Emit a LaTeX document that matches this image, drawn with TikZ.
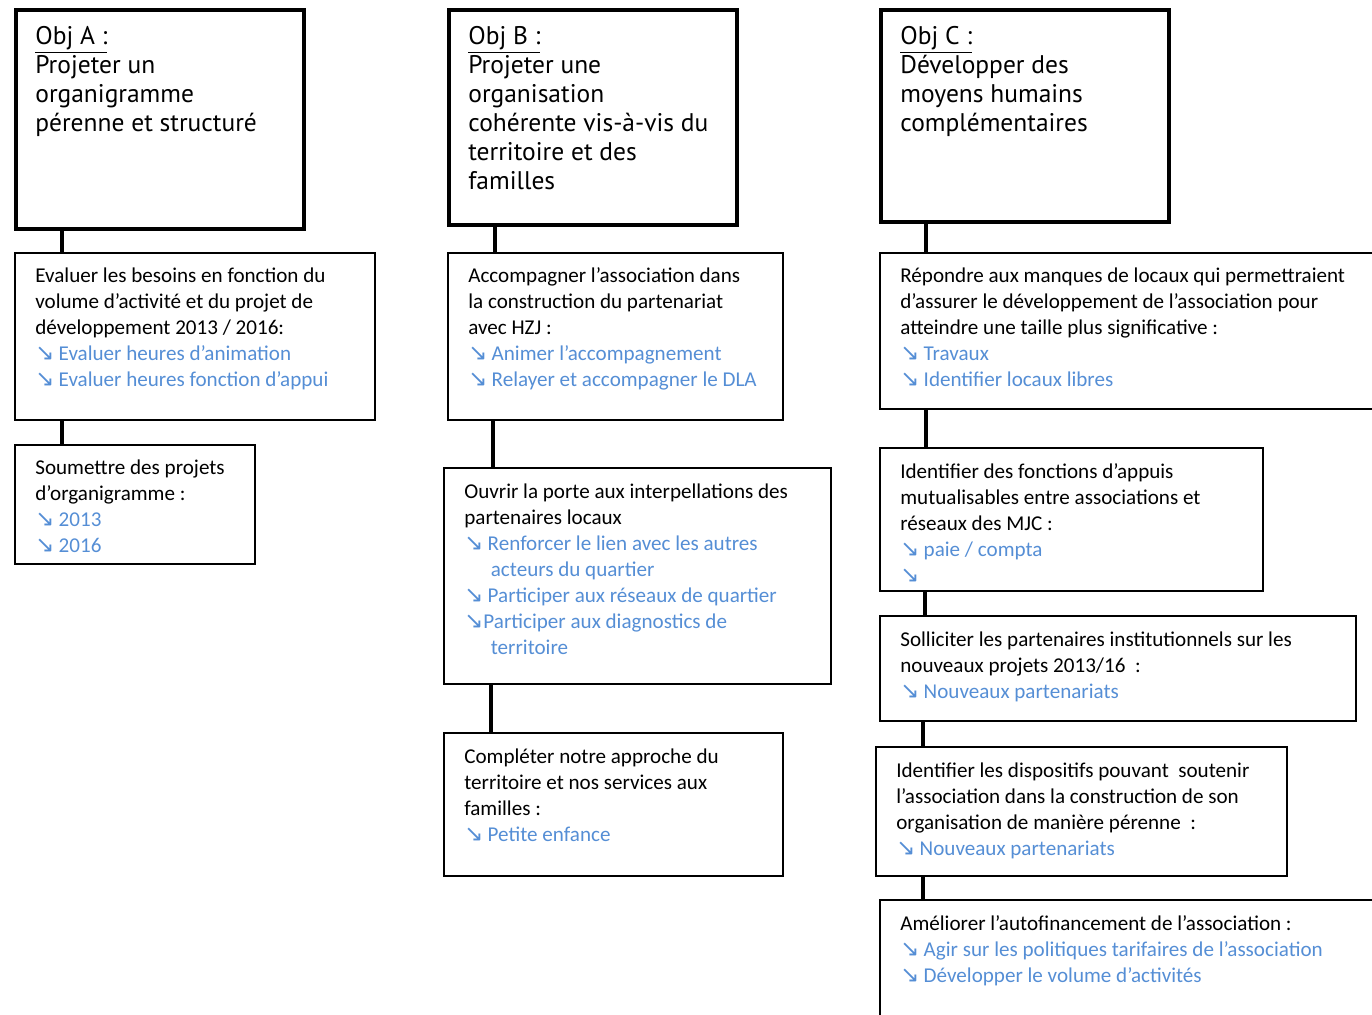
\documentclass[tikz,border=0pt]{standalone}
\usepackage{fontspec}
\setmainfont{Carlito}
\newfontfamily\titrefont{PT Sans}
\newfontfamily\flechefont{DejaVu Sans}
\usetikzlibrary{calc}
\definecolor{bleu}{RGB}{85,142,213}
\newcommand{\fl}{{\flechefont\fontsize{13}{12}\selectfont ↘}}
\newcommand{\puce}[1]{\textcolor{bleu}{\fl\hspace{0.2em}#1}}
\newcommand{\suite}[1]{\textcolor{bleu}{\hphantom{\fl}\hspace{0.35em}#1}}

\begin{document}
\begin{tikzpicture}[
  objectif/.style={draw, line width=2.3pt, anchor=north west, inner sep=0pt},
  action/.style={draw, line width=1.1pt, anchor=north west, inner sep=0pt},
  titre/.style={anchor=north west, inner sep=0pt, align=left, font=\titrefont\fontsize{14.5}{16.5}\selectfont},
  texte/.style={anchor=north west, inner sep=0pt, align=left, font=\fontsize{12}{14.8}\selectfont},
  lien/.style={line width=2.1pt}
]
\useasboundingbox (0,0) rectangle (27.44,-20.28);
\clip (0,0) rectangle (27.44,-20.28);

% colonne A
\node [objectif, minimum width=5.76cm, minimum height=4.38cm] (objA) at (0.28,-0.16) {};
\node [titre] (tA) at ($(objA.north west)+(0.42,-0.36)$) {\underline{Obj A :}\\Projeter un\\organigramme\\pérenne et structuré};

\node [action, minimum width=7.20cm, minimum height=3.34cm] (a1) at (0.28,-5.04) {};
\node [texte] (ta1) at ($(a1.north west)+(0.42,-0.30)$) {Evaluer les besoins en fonction du\\volume d’activité et du projet de\\développement 2013 / 2016:\\\puce{Evaluer heures d’animation}\\\puce{Evaluer heures fonction d’appui}};

\node [action, minimum width=4.80cm, minimum height=2.38cm] (a2) at (0.28,-8.88) {};
\node [texte] (ta2) at ($(a2.north west)+(0.42,-0.30)$) {Soumettre des projets\\d’organigramme :\\\puce{2013}\\\puce{2016}};

\draw [lien] ([xshift=0.96cm]objA.south west) -- ([xshift=0.96cm]objA.south west |- a1.north);
\draw [lien] ([xshift=0.96cm]a1.south west) -- ([xshift=0.96cm]a1.south west |- a2.north);

% colonne B
\node [objectif, minimum width=5.76cm, minimum height=4.30cm] (objB) at (8.94,-0.16) {};
\node [titre] (tB) at ($(objB.north west)+(0.42,-0.36)$) {\underline{Obj B :}\\Projeter une\\organisation\\cohérente vis-à-vis du\\territoire et des\\familles};

\node [action, minimum width=6.70cm, minimum height=3.34cm] (b1) at (8.94,-5.04) {};
\node [texte] (tb1) at ($(b1.north west)+(0.42,-0.30)$) {Accompagner l’association dans\\la construction du partenariat\\avec HZJ :\\\puce{Animer l’accompagnement}\\\puce{Relayer et accompagner le DLA}};

\node [action, minimum width=7.74cm, minimum height=4.32cm] (b2) at (8.86,-9.34) {};
\node [texte] (tb2) at ($(b2.north west)+(0.42,-0.32)$) {Ouvrir la porte aux interpellations des\\partenaires locaux\\\puce{Renforcer le lien avec les autres}\\\suite{acteurs du quartier}\\\puce{Participer aux réseaux de quartier}\\\textcolor{bleu}{\fl Participer aux diagnostics de}\\\suite{territoire}};

\node [action, minimum width=6.78cm, minimum height=2.86cm] (b3) at (8.86,-14.64) {};
\node [texte] (tb3) at ($(b3.north west)+(0.42,-0.32)$) {Compléter notre approche du\\territoire et nos services aux\\familles :\\\puce{Petite enfance}};

\draw [lien] ([xshift=0.96cm]objB.south west) -- ([xshift=0.96cm]objB.south west |- b1.north);
\draw [lien] ([xshift=0.92cm]b1.south west) -- ([xshift=0.92cm]b1.south west |- b2.north);
\draw [lien] ([xshift=0.96cm]b2.south west) -- ([xshift=0.96cm]b2.south west |- b3.north);

% colonne C
\node [objectif, minimum width=5.76cm, minimum height=4.24cm] (objC) at (17.58,-0.16) {};
\node [titre] (tC) at ($(objC.north west)+(0.42,-0.36)$) {\underline{Obj C :}\\Développer des\\moyens humains\\complémentaires};

\node [action, minimum width=10cm, minimum height=3.12cm] (c1) at (17.58,-5.04) {};
\node [texte] (tc1) at ($(c1.north west)+(0.42,-0.30)$) {Répondre aux manques de locaux qui permettraient\\d’assurer le développement de l’association pour\\atteindre une taille plus significative :\\\puce{Travaux}\\\puce{Identifier locaux libres}};

\node [action, minimum width=7.66cm, minimum height=2.86cm] (c2) at (17.58,-8.94) {};
\node [texte] (tc2) at ($(c2.north west)+(0.42,-0.32)$) {Identifier des fonctions d’appuis\\mutualisables entre associations et\\réseaux des MJC :\\\puce{paie / compta}\\\textcolor{bleu}{\fl}};

\node [action, minimum width=9.52cm, minimum height=2.10cm] (c3) at (17.58,-12.30) {};
\node [texte] (tc3) at ($(c3.north west)+(0.42,-0.32)$) {Solliciter les partenaires institutionnels sur les\\nouveaux projets 2013/16~~:\\\puce{Nouveaux partenariats}};

\node [action, minimum width=8.22cm, minimum height=2.58cm] (c4) at (17.50,-14.92) {};
\node [texte] (tc4) at ($(c4.north west)+(0.42,-0.32)$) {Identifier les dispositifs pouvant~~soutenir\\l’association dans la construction de son\\organisation de manière pérenne~~:\\\puce{Nouveaux partenariats}};

\node [action, minimum width=10cm, minimum height=4cm] (c5) at (17.58,-17.98) {};
\node [texte] (tc5) at ($(c5.north west)+(0.42,-0.32)$) {Améliorer l’autofinancement de l’association :\\\puce{Agir sur les politiques tarifaires de l’association}\\\puce{Développer le volume d’activités}};

\draw [lien] ([xshift=0.94cm]objC.south west) -- ([xshift=0.94cm]objC.south west |- c1.north);
\draw [lien] ([xshift=0.94cm]c1.south west) -- ([xshift=0.94cm]c1.south west |- c2.north);
\draw [lien] ([xshift=0.92cm]c2.south west) -- ([xshift=0.92cm]c2.south west |- c3.north);
\draw [lien] ([xshift=0.88cm]c3.south west) -- ([xshift=0.88cm]c3.south west |- c4.north);
\draw [lien] ([xshift=0.96cm]c4.south west) -- ([xshift=0.96cm]c4.south west |- c5.north);
\end{tikzpicture}
\end{document}
